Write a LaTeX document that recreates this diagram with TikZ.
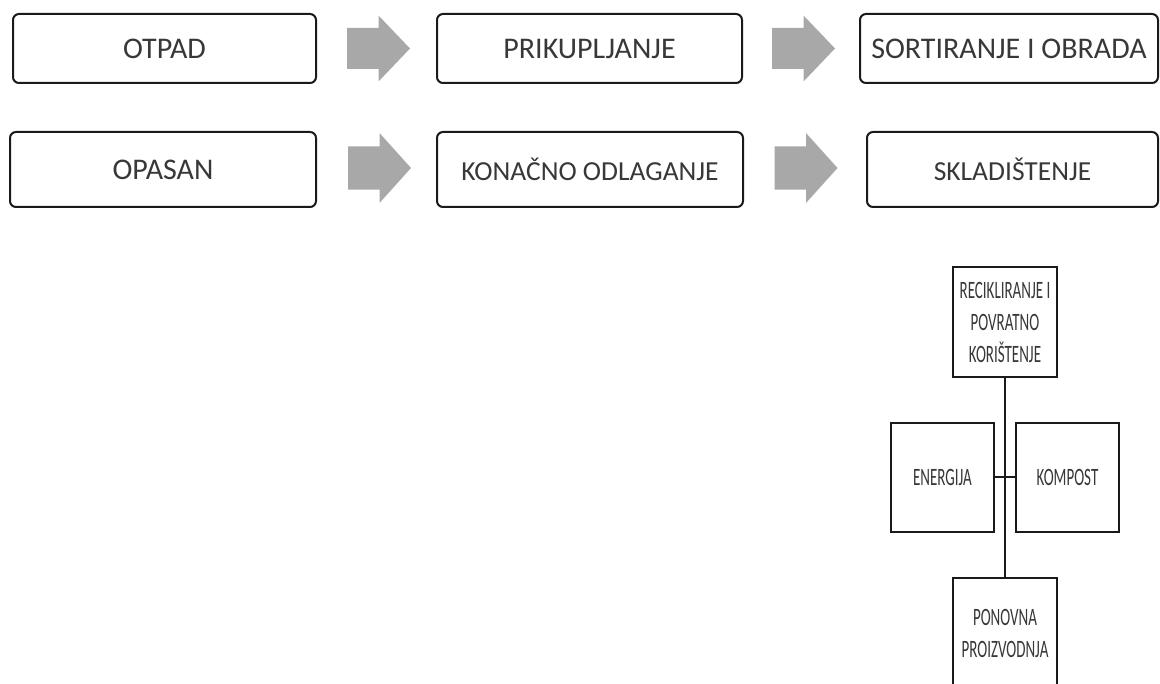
\documentclass[tikz,border=0pt]{standalone}
\usepackage{fontspec}
\setmainfont{Carlito}
\newfontfamily\narrowfont[FakeStretch=0.6]{Carlito}
\definecolor{boxline}{HTML}{1A1A1A}
\definecolor{txtgray}{HTML}{383838}
\definecolor{arrowgray}{HTML}{A8A8A8}
\begin{document}
\begin{tikzpicture}[x=1pt,y=-1pt,
  flowbox/.style={draw=boxline, line width=2pt, rounded corners=6pt, fill=white,
    inner sep=0pt, text=txtgray, font=\fontsize{30}{34}\selectfont},
  smalltxt/.style={font=\fontsize{27.5}{32}\selectfont},
  sqbox/.style={draw=boxline, line width=2pt, fill=white, inner sep=0pt,
    minimum width=104pt, minimum height=110pt, text=txtgray, align=center,
    font=\narrowfont\fontsize{25}{32}\selectfont},
  link/.style={draw=boxline, line width=2pt},
  blkarrow/.pic={\fill[arrowgray] (-31.5,-20.5) -- (0,-20.5) -- (0,-33) -- (31.5,0)
      -- (0,33) -- (0,20.5) -- (-31.5,20.5) -- cycle;}]
\useasboundingbox (0,0) rectangle (1160,684);
\clip (0,0) rectangle (1160,684);

% top row
\node[flowbox, minimum width=303pt, minimum height=69pt] (otpad) at (164.5,48.5) {OTPAD};
\node[flowbox, minimum width=305pt, minimum height=69pt] (prik) at (589.5,48.5) {PRIKUPLJANJE};
\node[flowbox, minimum width=298pt, minimum height=69pt] (sort) at (1009,48.5) {SORTIRANJE I OBRADA};
\pic (a1) at (378.5,48.5) {blkarrow};
\pic (a2) at (803.5,48.5) {blkarrow};

% second row
\node[flowbox, minimum width=306pt, minimum height=75pt] (opasan) at (163,169.5) {OPASAN};
\node[flowbox, smalltxt, minimum width=306pt, minimum height=75pt] (konac) at (590,169.5) {KONAČNO ODLAGANJE};
\node[flowbox, smalltxt, minimum width=291pt, minimum height=75pt] (sklad) at (1012.5,169.5) {SKLADIŠTENJE};
\pic[yscale=1.06] (a3) at (379.5,168) {blkarrow};
\pic[yscale=1.06] (a4) at (806,168) {blkarrow};

% recycling tree
\node[sqbox] (recik) at (1005,322) {RECIKLIRANJE I\\POVRATNO\\KORIŠTENJE};
\node[sqbox, minimum width=103pt, minimum height=109pt] (energ) at (942.5,477.5) {ENERGIJA};
\node[sqbox, minimum width=103pt, minimum height=109pt] (kompo) at (1067.5,477.5) {KOMPOST};
\node[sqbox] (ponov) at (1005,633) {PONOVNA\\PROIZVODNJA};
\draw[link] (recik.south) -- (ponov.north);
\draw[link] (energ.east) -- (kompo.west);
\end{tikzpicture}
\end{document}
